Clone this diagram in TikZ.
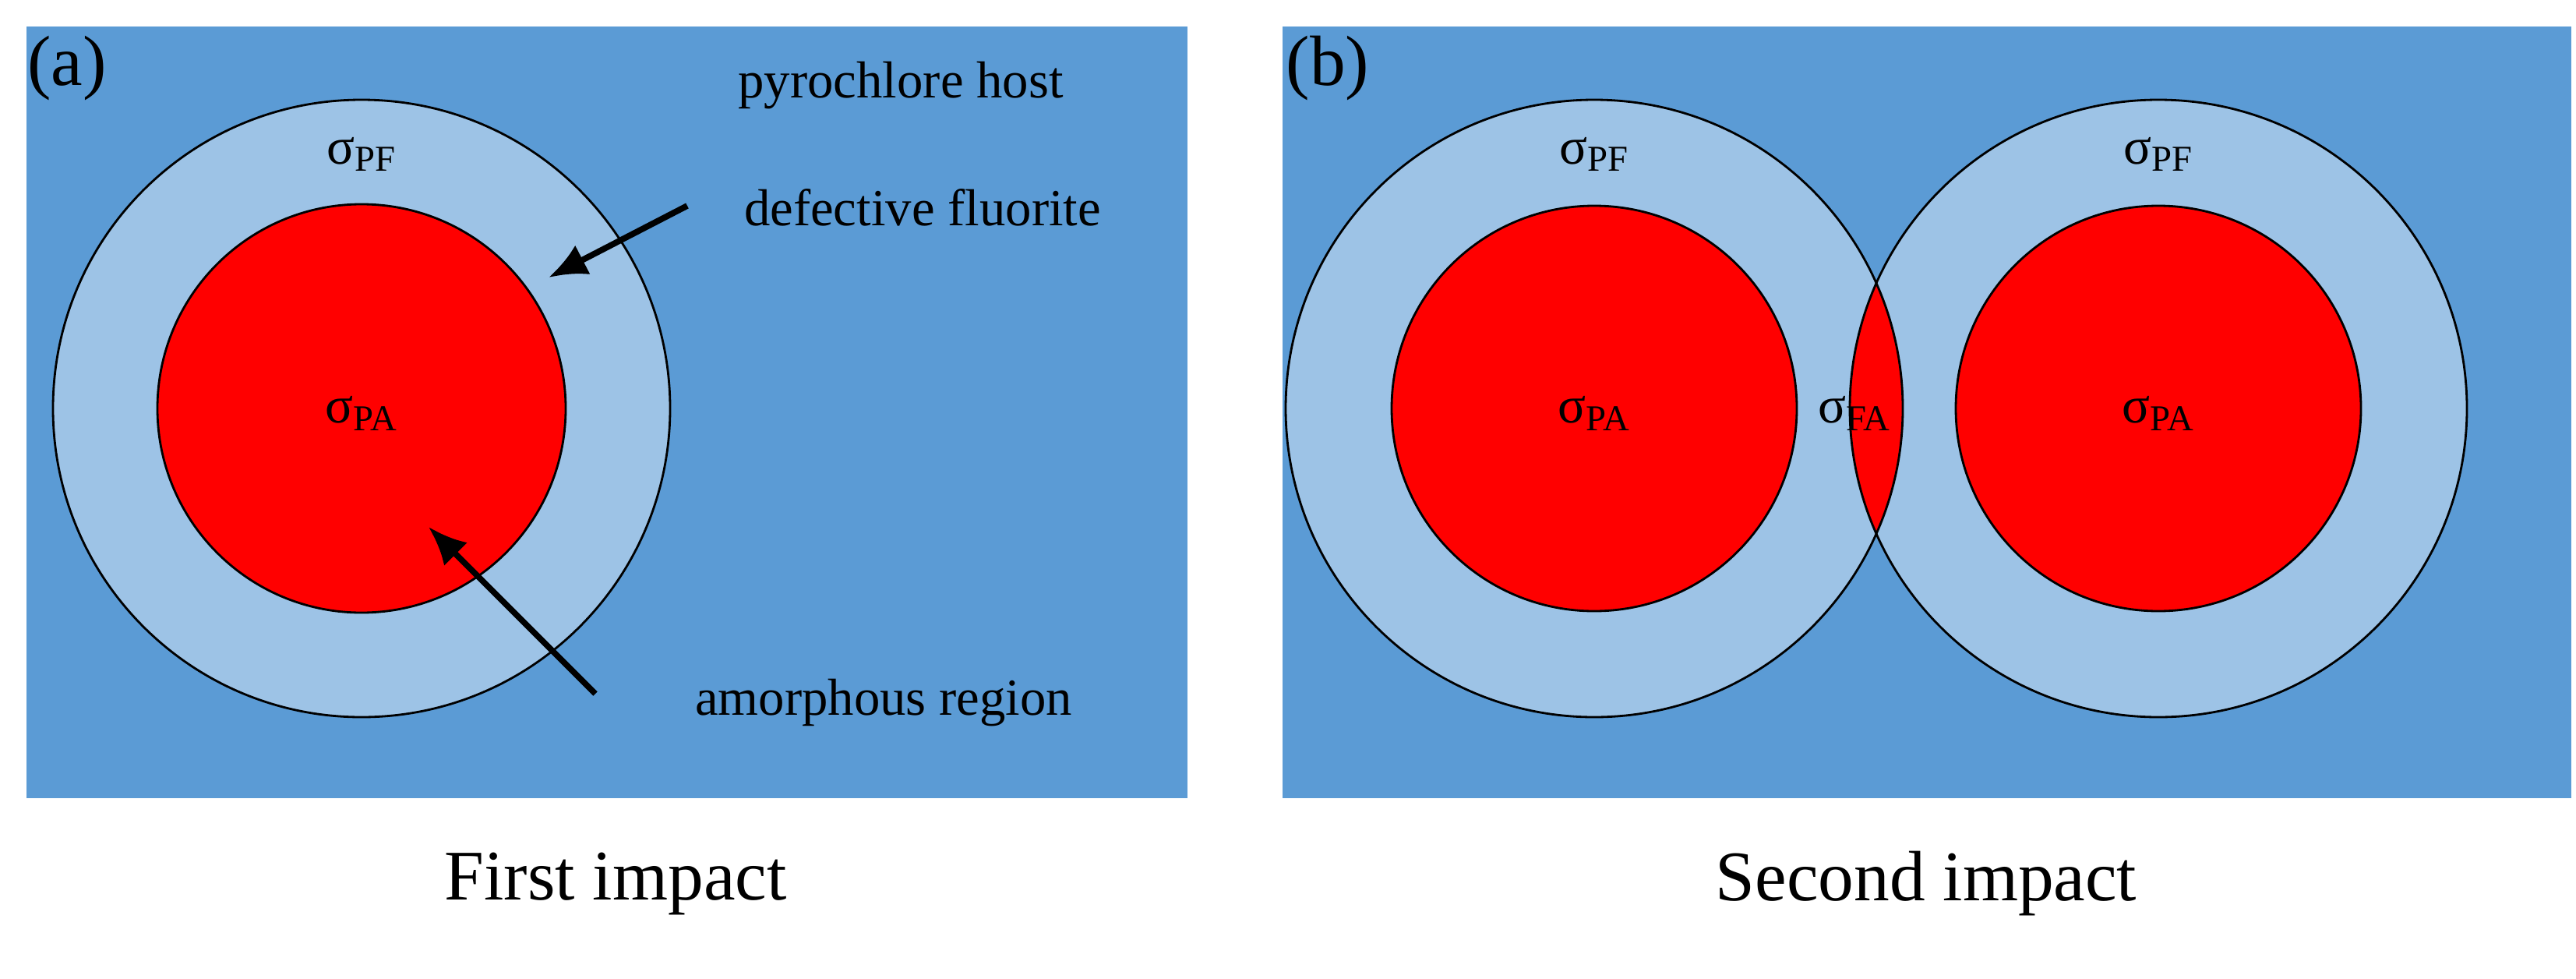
\documentclass[tikz,border=0pt]{standalone}
\usepackage{fontspec}
\setmainfont{Liberation Serif}
\usetikzlibrary{arrows.meta}
\definecolor{host}{HTML}{5B9BD5}
\definecolor{fluor}{HTML}{9DC3E6}
\definecolor{amor}{HTML}{FF0000}
\tikzset{
  lbl/.style={font=\fontsize{19}{22}\selectfont, inner sep=0pt},
  captxt/.style={font=\fontsize{26}{30}\selectfont, inner sep=0pt},
  outer/.style={draw=black, line width=0.8pt},
  arr/.style={-{Latex[length=14pt,width=12pt]}, line width=2.2pt}
}
\begin{document}
\begin{tikzpicture}[x=0.02cm,y=-0.02cm]
\useasboundingbox (0,0) rectangle (1653,627.5);
% panels
\fill[host] (17,17) rectangle (762,512);
\fill[host] (823,17) rectangle (1650,512);
% panel a
\fill[fluor] (232,262) circle (198);
\fill[amor] (232,262) circle (131);
\draw[outer] (232,262) circle (198);
\draw[outer] (232,262) circle (131);
% panel b
\fill[fluor] (1023,262) circle (198);
\fill[fluor] (1385,262) circle (198);
\begin{scope}
  \clip (1023,262) circle (198);
  \fill[amor] (1385,262) circle (198);
\end{scope}
\fill[amor] (1023,262) circle (130);
\fill[amor] (1385,262) circle (130);
\draw[outer] (1023,262) circle (130);
\draw[outer] (1385,262) circle (130);
\draw[outer] (1023,262) circle (198);
\draw[outer] (1385,262) circle (198);
% labels a
\node[captxt] (la) at (43,44) {(a)};
\node[lbl] (host) at (578,55) {pyrochlore host};
\node[lbl] (fl) at (592,133) {defective fluorite};
\node[lbl] (am) at (567,451) {amorphous region};
\node[lbl] (pfa) at (232,99) {σ\textsubscript{PF}};
\node[lbl] (paa) at (232,265) {σ\textsubscript{PA}};
\coordinate (a1s) at (441,132);
\coordinate (a1e) at (352,178);
\coordinate (a2s) at (382,445);
\coordinate (a2e) at (275,338);
\draw[arr] (a1s) -- (a1e);
\draw[arr] (a2s) -- (a2e);
% labels b
\node[captxt] (lb) at (852,44) {(b)};
\node[lbl] (pfb1) at (1023,99) {σ\textsubscript{PF}};
\node[lbl] (pfb2) at (1385,99) {σ\textsubscript{PF}};
\node[lbl] (pab1) at (1023,265) {σ\textsubscript{PA}};
\node[lbl] (pab2) at (1385,265) {σ\textsubscript{PA}};
\node[lbl] (fa) at (1190,265) {σ\textsubscript{FA}};
% captions
\node[captxt] (c1) at (395,567) {First impact};
\node[captxt] (c2) at (1236,567) {Second impact};
\end{tikzpicture}
\end{document}
